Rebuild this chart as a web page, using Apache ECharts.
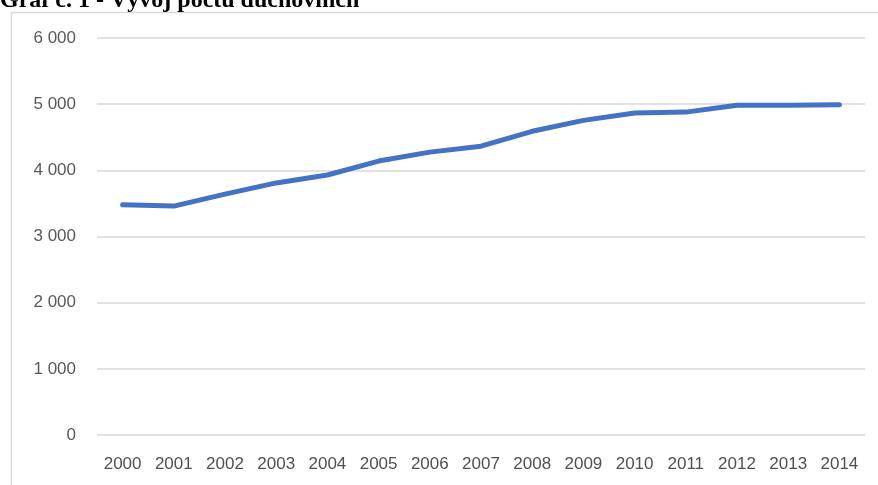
<!DOCTYPE html>
<html>
<head>
<meta charset="utf-8">
<script src="https://cdn.jsdelivr.net/npm/echarts@6/dist/echarts.min.js"></script>
<style>
    html, body { margin: 0; padding: 0; background: #fff; }
    #chart { width: 878px; height: 485px; }
</style>
</head>
<body>
<div id="chart"></div>
<script>
// data
const years = ['2000', '2001', '2002', '2003', '2004', '2005', '2006', '2007',
    '2008', '2009', '2010', '2011', '2012', '2013', '2014'];
const duchovni = [3480, 3460, 3640, 3810, 3930, 4140, 4275, 4365,
    4590, 4755, 4865, 4880, 4985, 4985, 4990];
const yTicks = [0, 1000, 2000, 3000, 4000, 5000, 6000];

document.addEventListener('DOMContentLoaded', function () {
    const chartDom = document.getElementById('chart');
    const chart = echarts.init(chartDom);

    const option = {
        animation: false,
        backgroundColor: '#fff',
        graphic: [
            {
                // frame of the embedded chart
                type: 'rect',
                shape: { x: 11.5, y: 12.5, width: 900, height: 500 },
                style: { fill: 'none', stroke: '#d9d9d9', lineWidth: 1.5 },
                z: 0
            },
            {
                type: 'text',
                left: 0,
                top: -11,
                style: {
                    text: 'Graf č. 1 - Vývoj počtu duchovních',
                    font: 'bold 24px "Liberation Serif"',
                    fill: '#000'
                },
                z: 10
            }
        ],
        grid: {
            left: 97,
            right: 13,
            top: 38,
            bottom: 50
        },
        xAxis: {
            type: 'category',
            data: years,
            boundaryGap: true,
            axisLine: { show: false },
            axisTick: { show: false },
            axisLabel: {
                color: '#505050',
                fontFamily: 'Liberation Sans',
                fontSize: 17,
                margin: 21,
                interval: 0
            }
        },
        yAxis: {
            type: 'value',
            min: yTicks[0],
            max: yTicks[yTicks.length - 1],
            interval: 1000,
            axisLine: { show: false },
            axisTick: { show: false },
            splitLine: { lineStyle: { color: '#d9d9d9', width: 1.5 } },
            axisLabel: {
                color: '#595959',
                fontFamily: 'Liberation Sans',
                fontSize: 17,
                margin: 21,
                formatter: function (value) {
                    return String(value).replace(/\B(?=(\d{3})+(?!\d))/g, ' ');
                }
            }
        },
        series: [
            {
                type: 'line',
                data: duchovni,
                symbol: 'none',
                lineStyle: {
                    color: '#4472c4',
                    width: 5,
                    cap: 'round',
                    join: 'round'
                }
            }
        ]
    };
    chart.setOption(option);
});
</script>
</body>
</html>
